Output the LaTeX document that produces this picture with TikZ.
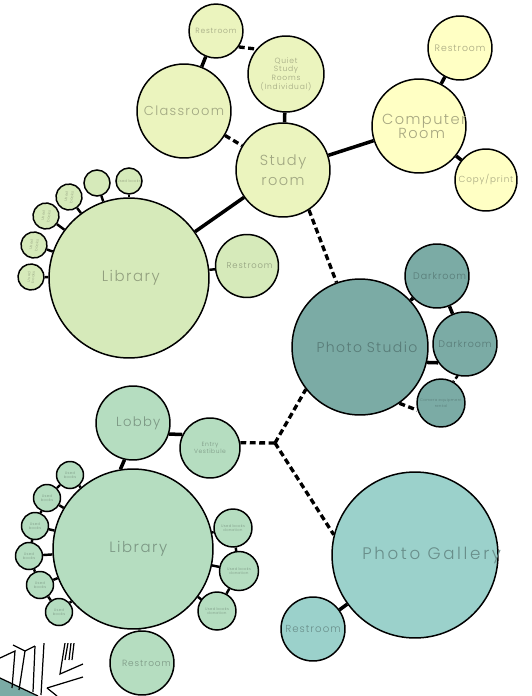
\documentclass[tikz,border=0pt]{standalone}
\usepackage{xcolor}
\usepackage{fontspec}
\setmainfont{Poppins}[UprightFont=* Light,LetterSpace=10]
\usetikzlibrary{positioning}

\definecolor{studyfill}{HTML}{EBF4BE}
\definecolor{computerfill}{HTML}{FFFFC4}
\definecolor{upperfill}{HTML}{D6EABA}
\definecolor{darkfill}{HTML}{7BABA5}
\definecolor{lowerfill}{HTML}{B5DDC0}
\definecolor{galleryfill}{HTML}{9BD1CB}

\newcommand{\moved}[2]{\makebox[0pt]{\hspace*{#1}#2}}

\begin{document}
\begin{tikzpicture}
          [x=0.02cm,y=-0.02cm,
          room/.style={shape=circle,draw=black,line width=0.85pt,inner sep=0pt,align=center,minimum width=#1*0.04cm},
          study/.style={room=#1,fill=studyfill,text=studyfill!68!black},
          yellow/.style={room=#1,fill=computerfill,text=computerfill!65!black},
          upper/.style={room=#1,fill=upperfill,text=upperfill!68!black},
          dark/.style={room=#1,fill=darkfill,text=darkfill!72!black},
          lower/.style={room=#1,fill=lowerfill,text=lowerfill!68!black},
          gallery/.style={room=#1,fill=galleryfill,text=galleryfill!68!black},
          size/.style={font=\fontsize{#1}{1.15\dimexpr#1pt\relax}\selectfont},
          tiny/.style={size=2.1},
          link/.style={line width=2pt},
          thin link/.style={line width=1.4pt},
          dash link/.style={line width=1.9pt,dash pattern=on 3.4pt off 2pt},
          fragment/.style={line width=0.7pt}]

            \useasboundingbox (0,0) rectangle (531,696);

            \node (restroomA) [study=27,size=4.3] at (216,31) {Restroom};
            \node (quiet) [study=38,size=4.3] at (286,74) {Quiet\\Study\\Rooms\\(Individual)};
            \node (classroom) [study=47,size=7.4] at (184,111) {Classroom};
            \node (studyroom) [study=47,size=8.3] at (283,170) {Study\\[1.5pt]room};

            \node (computer) [yellow=47,size=8.3] at (419,126) {\moved{6pt}{Computer}\\[-1.5pt]\moved{3pt}{Room}};
            \node (restroomB) [yellow=32,size=5.3] at (460,48) {Restroom};
            \node (copy) [yellow=31,size=5] at (486,180) {Copy/print};

            \node (libraryA) [upper=80,size=8.5] at (129,278) {\moved{2pt}{Library}};
            \node (restroomC) [upper=31.5,size=4.8] at (247,266) {\moved{3pt}{Restroom}};
            \node (usedA) [upper=13,tiny,rotate=85] at (31,277) {Used\\books};
            \node (usedB) [upper=13,tiny,rotate=82] at (34,245) {Used\\[0.8pt]books};
            \node (usedC) [upper=13,tiny,rotate=82] at (46,216) {Used\\[0.8pt]books};
            \node (usedD) [upper=13,tiny,rotate=82] at (69,197) {Used\\[0.8pt]books};
            \node (usedE) [upper=13] at (97,183) {};
            \node (usedF) [upper=13,tiny] at (129,181) {Used books};

            \node (studio) [dark=68,size=8] at (360,347) {\moved{8pt}{Photo\,\,Studio}};
            \node (darkA) [dark=32,size=5.4] at (437,276) {\moved{3pt}{Darkroom}};
            \node (darkB) [dark=32,size=5.4] at (465,344) {Darkroom};
            \node (camera) [dark=24,tiny] at (441,403) {Camera equipment\\[1pt]rental};

            \node (lobby) [lower=37,size=7.5] at (133,423) {\moved{6pt}{Lobby}};
            \node (entry) [lower=30,size=3.4] at (210,448) {Entry\\Vestibule};
            \node (libraryB) [lower=80,size=8.5] at (133,549) {\moved{6pt}{Library}};
            \node (restroomD) [lower=32,size=5.1] at (142,663) {\moved{5pt}{Restroom}};

            \node (bookA) [lower=13.5,tiny] at (70,475) {Used\\books};
            \node (bookB) [lower=13.5,tiny] at (47,498) {Used\\books};
            \node (bookC) [lower=13.5,tiny] at (35,526) {Used\\books};
            \node (bookD) [lower=13.5,tiny] at (29,556) {Used\\books};
            \node (bookE) [lower=13.5,tiny] at (40,585) {Used\\books};
            \node (bookF) [lower=13.5,tiny] at (59,612) {Used\\books};
            \node (donateA) [lower=19,tiny] at (233,528) {Used books\\donation};
            \node (donateB) [lower=19.5,tiny] at (239,571) {Used books\\donation};
            \node (donateC) [lower=19,tiny] at (217,611) {Used books\\donation};

            \node (photogallery) [gallery=83,size=9.5] at (415,555) {\moved{19pt}{\addfontfeature{LetterSpace=16}Photo Gallery}};
            \node (restroomE) [gallery=32,size=5.8] at (313,629) {Restroom};

            \coordinate (fork) at (275,443);

            \draw [link] (restroomA) -- (classroom);
            \draw [dash link] (restroomA.325) -- (quiet.140);
            \draw [link] (quiet) -- (studyroom);
            \draw [dash link] (classroom) -- (studyroom);
            \draw [link] (studyroom) -- (computer);
            \draw [link] (studyroom) -- (libraryA);
            \draw [dash link] (studyroom.303) -- (studio.110);
            \draw [link] (computer) -- (restroomB);
            \draw [link] (computer) -- (copy);

            \draw [thin link] (libraryA) -- (restroomC);
            \draw [thin link] (libraryA) -- (usedA);
            \draw [thin link] (libraryA) -- (usedB);
            \draw [thin link] (libraryA) -- (usedC);
            \draw [thin link] (libraryA) -- (usedD);
            \draw [thin link] (libraryA) -- (usedE);
            \draw [thin link] (libraryA) -- (usedF);

            \draw [link] (studio) -- (darkA);
            \draw [link] (darkA) -- (darkB);
            \draw [link] (studio.347) -- (darkB.215);
            \draw [dash link] (studio.305) -- (camera.197);
            \draw [thin link,dash pattern=on 2pt off 1.5pt] (darkB.257) -- (camera.60);

            \draw [link] (lobby.343) -- (entry.154);
            \draw [link] (lobby.257) -- (libraryB.99);
            \draw [thin link] (libraryB) -- (restroomD);
            \draw [dash link] (entry.10) -- (fork);
            \draw [dash link] (fork) -- (studio.218);
            \draw [dash link] (fork) -- (photogallery.166);
            \draw [link] (photogallery) -- (restroomE);

            \foreach \a/\b in {bookA/bookB,bookB/bookC,bookC/bookD,bookD/bookE,bookE/bookF,donateA/donateB,donateB/donateC}
              \draw [thin link] (\a) -- (\b);
            \foreach \a in {bookA,bookB,bookC,bookD,bookE,bookF,donateA,donateB,donateC}
              \draw [thin link] (libraryB) -- (\a);

            % drawing cut off in the corner
            \begin{scope}
              \clip (0,643) rectangle (83,696);
              \fill [darkfill] (0,678) -- (38,696) -- (0,696) -- cycle;
              \draw [fragment] (0,678) -- (38,696);
              \draw [fragment] (0,658) -- (15,651) -- (12,688);
              \draw [fragment] (13,645) -- (25,651) -- (35,646);
              \draw [fragment] (25,651) -- (19,690);
              \draw [fragment] (35,646) -- (33,692);
              \draw [fragment] (44,643) -- (41,695);
              \draw [fragment] (65,643) -- (60,674) -- (83,664);
              \draw [fragment] (68,643) -- (65,660);
              \draw [fragment] (71,643) -- (69,660);
              \draw [fragment] (74,643) -- (72,660);
              \draw [fragment] (47,688) -- (83,677);
              \draw [fragment] (47,688) -- (57,696);
            \end{scope}

        \end{tikzpicture}
\end{document}
